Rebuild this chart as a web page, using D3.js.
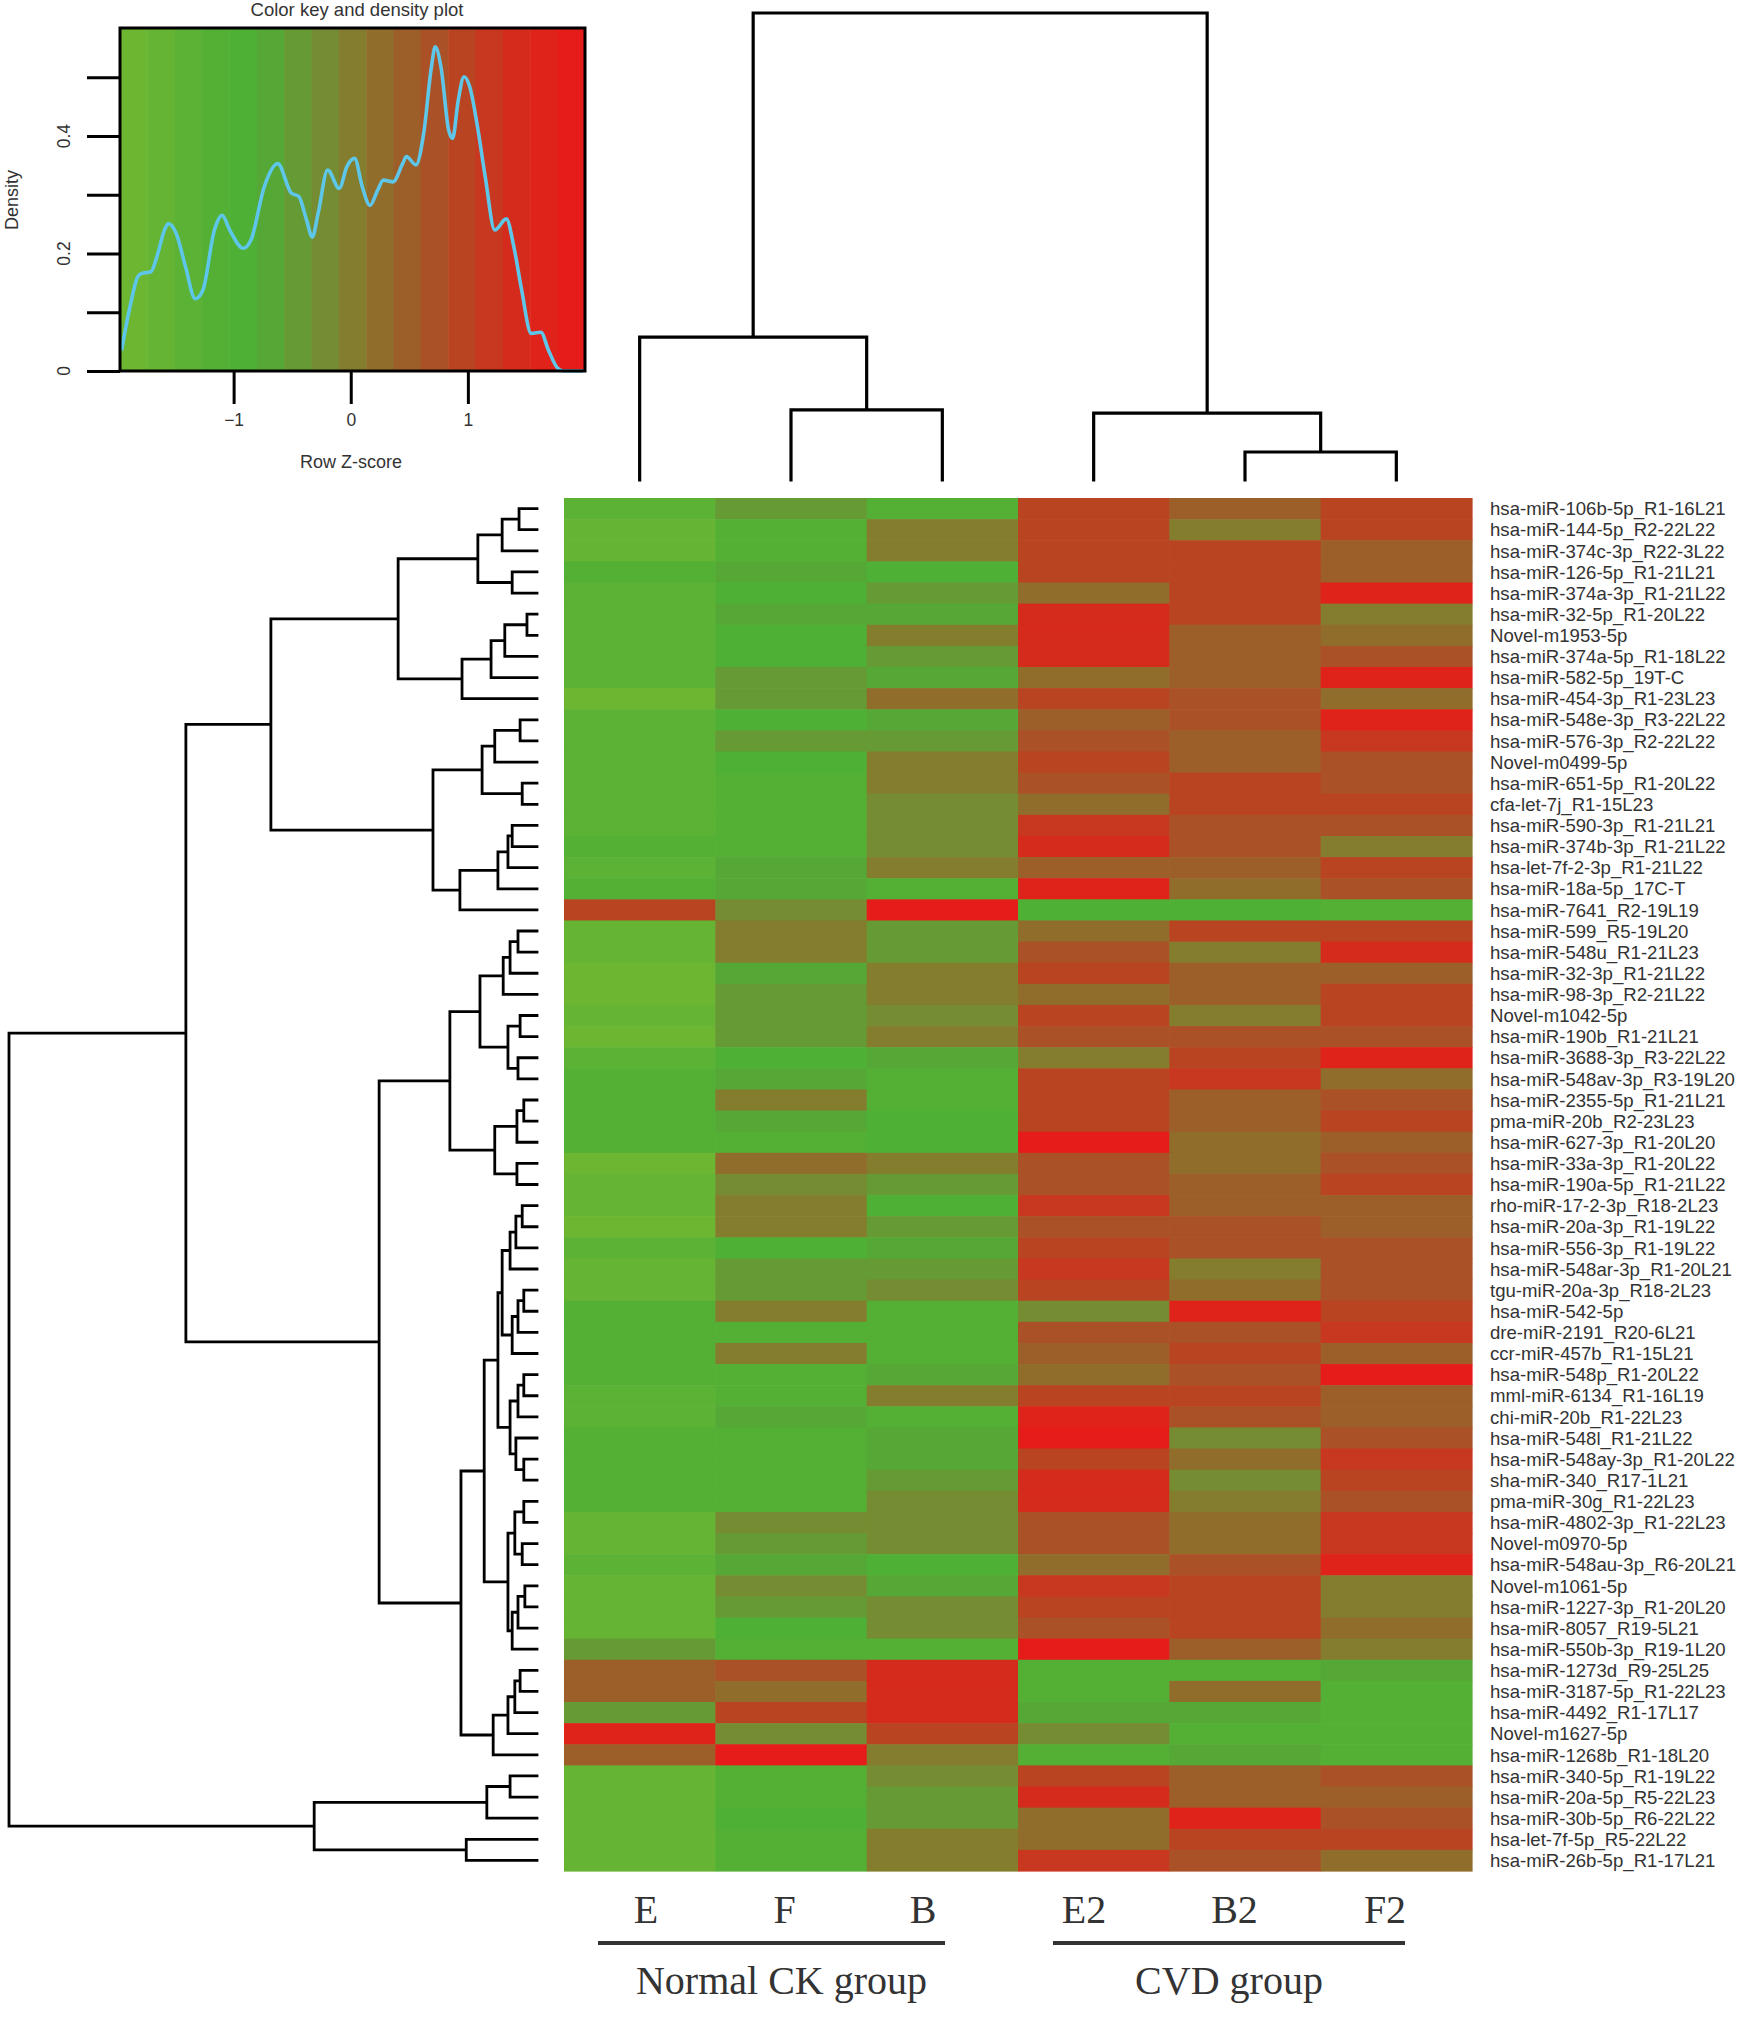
<!DOCTYPE html>
<html><head><meta charset="utf-8">
<script src="https://cdn.jsdelivr.net/npm/d3@7"></script>
<style>body{margin:0;background:#fff}svg{display:block}</style>
</head><body>
<svg id="c" width="1744" height="2017"></svg>
<script>
// ---------------- data ----------------
const cols = ["E","F","B","E2","B2","F2"];
const groups = ["Normal CK group","CVD group"];
const groupMembers = [["E","F","B"],["E2","B2","F2"]];
const rowLabels = [
"hsa-miR-106b-5p_R1-16L21","hsa-miR-144-5p_R2-22L22","hsa-miR-374c-3p_R22-3L22","hsa-miR-126-5p_R1-21L21",
"hsa-miR-374a-3p_R1-21L22","hsa-miR-32-5p_R1-20L22","Novel-m1953-5p","hsa-miR-374a-5p_R1-18L22",
"hsa-miR-582-5p_19T-C","hsa-miR-454-3p_R1-23L23","hsa-miR-548e-3p_R3-22L22","hsa-miR-576-3p_R2-22L22",
"Novel-m0499-5p","hsa-miR-651-5p_R1-20L22","cfa-let-7j_R1-15L23","hsa-miR-590-3p_R1-21L21",
"hsa-miR-374b-3p_R1-21L22","hsa-let-7f-2-3p_R1-21L22","hsa-miR-18a-5p_17C-T","hsa-miR-7641_R2-19L19",
"hsa-miR-599_R5-19L20","hsa-miR-548u_R1-21L23","hsa-miR-32-3p_R1-21L22","hsa-miR-98-3p_R2-21L22",
"Novel-m1042-5p","hsa-miR-190b_R1-21L21","hsa-miR-3688-3p_R3-22L22","hsa-miR-548av-3p_R3-19L20",
"hsa-miR-2355-5p_R1-21L21","pma-miR-20b_R2-23L23","hsa-miR-627-3p_R1-20L20","hsa-miR-33a-3p_R1-20L22",
"hsa-miR-190a-5p_R1-21L22","rho-miR-17-2-3p_R18-2L23","hsa-miR-20a-3p_R1-19L22","hsa-miR-556-3p_R1-19L22",
"hsa-miR-548ar-3p_R1-20L21","tgu-miR-20a-3p_R18-2L23","hsa-miR-542-5p","dre-miR-2191_R20-6L21",
"ccr-miR-457b_R1-15L21","hsa-miR-548p_R1-20L22","mml-miR-6134_R1-16L19","chi-miR-20b_R1-22L23",
"hsa-miR-548l_R1-21L22","hsa-miR-548ay-3p_R1-20L22","sha-miR-340_R17-1L21","pma-miR-30g_R1-22L23",
"hsa-miR-4802-3p_R1-22L23","Novel-m0970-5p","hsa-miR-548au-3p_R6-20L21","Novel-m1061-5p",
"hsa-miR-1227-3p_R1-20L20","hsa-miR-8057_R19-5L21","hsa-miR-550b-3p_R19-1L20","hsa-miR-1273d_R9-25L25",
"hsa-miR-3187-5p_R1-22L23","hsa-miR-4492_R1-17L17","Novel-m1627-5p","hsa-miR-1268b_R1-18L20",
"hsa-miR-340-5p_R1-19L22","hsa-miR-20a-5p_R5-22L23","hsa-miR-30b-5p_R6-22L22","hsa-let-7f-5p_R5-22L22",
"hsa-miR-26b-5p_R1-17L21"];

// row Z-scores, one array per sample (column)
const zE  = [-1.4,-1.7,-1.6,-1.25,-1.3,-1.3,-1.45,-1.3,-1.45,-1.75,-1.3,-1.45,-1.45,-1.3,-1.3,-1.45,-1.1,-1.35,-1.05,0.95,
 -1.7,-1.7,-1.75,-1.8,-1.7,-1.8,-1.3,-1.15,-1.25,-1.25,-1.15,-1.75,-1.65,-1.65,-1.75,-1.3,-1.65,-1.65,-1.15,-1.15,
 -1.15,-1.1,-1.45,-1.3,-1.1,-1.15,-1.15,-1.15,-1.65,-1.65,-1.5,-1.65,-1.65,-1.65,-0.4,0.45,0.5,-0.4,1.55,0.45,
 -1.65,-1.65,-1.65,-1.65,-1.65];
const zF  = [-0.55,-1.1,-1.05,-0.75,-1.0,-0.8,-1.0,-1.0,-0.4,-0.5,-0.9,-0.5,-1.0,-1.05,-1.05,-1.05,-1.05,-0.6,-0.65,-0.15,
 -0.1,-0.05,-0.8,-0.4,-0.4,-0.55,-1.0,-0.8,0.0,-0.8,-1.05,0.3,-0.25,-0.1,-0.1,-0.95,-0.4,-0.5,-0.1,-1.05,
 0.0,-1.05,-1.05,-0.8,-1.05,-1.05,-1.05,-1.05,-0.25,-0.4,-0.65,-0.25,-0.45,-0.95,-1.05,0.7,0.25,1.05,-0.3,1.85,
 -1.05,-1.05,-0.95,-1.05,-1.05];
const zB  = [-1.1,0.0,0.0,-1.0,-0.45,-0.6,0.0,-0.4,-0.65,0.25,-0.8,-0.45,-0.1,-0.1,-0.25,-0.25,-0.2,-0.1,-1.05,1.8,
 -0.4,-0.55,0.0,0.05,-0.3,0.0,-0.65,-1.05,-1.05,-0.85,-0.85,-0.1,-0.55,-0.95,-0.45,-0.65,-0.4,-0.25,-1.05,-1.05,
 -1.05,-0.65,-0.1,-1.05,-0.65,-0.65,-0.4,-0.25,-0.25,-0.25,-0.95,-0.65,-0.25,-0.15,-1.05,1.5,1.5,1.5,0.9,0.05,
 -0.25,-0.45,-0.55,-0.1,-0.1];
const zE2 = [1.0,1.0,1.0,1.05,0.15,1.5,1.5,1.5,0.25,0.95,0.45,0.6,1.0,0.65,0.2,1.25,1.5,0.5,1.7,-0.95,
 0.15,0.6,0.85,0.2,1.0,0.6,-0.1,1.05,1.05,0.95,1.85,0.6,0.8,1.25,0.7,1.0,1.25,1.05,-0.15,0.7,
 0.55,0.25,1.0,1.55,1.9,1.05,1.5,1.5,0.7,0.7,0.35,1.25,1.05,0.7,1.85,-1.05,-1.25,-0.8,-0.15,-1.05,
 1.05,1.5,0.2,0.2,1.15];
const zB2 = [0.55,0.1,1.0,1.0,0.95,0.95,0.5,0.45,0.5,0.6,0.6,0.45,0.4,1.0,1.05,0.6,0.8,0.5,0.25,-0.95,
 0.9,0.0,0.55,0.55,0.1,0.6,1.0,1.25,0.45,0.5,0.25,0.35,0.45,0.45,0.6,0.6,-0.1,0.35,1.55,0.6,
 1.0,0.7,0.9,0.6,-0.15,0.35,-0.15,-0.1,0.15,0.15,0.7,0.9,1.05,1.05,0.45,-1.05,0.15,-0.65,-1.05,-0.6,
 0.45,0.45,1.55,1.0,0.7];
const zF2 = [1.0,1.0,0.4,0.55,1.55,0.0,0.35,0.75,1.55,0.15,1.55,1.25,0.75,0.65,1.05,0.6,-0.1,1.0,0.7,-1.05,
 0.9,1.5,0.55,1.0,1.0,0.6,1.55,0.35,0.7,1.0,0.45,0.6,0.95,0.5,0.5,0.7,0.7,0.7,1.0,1.25,
 0.5,1.8,0.5,0.45,0.7,1.25,1.05,0.7,1.15,1.15,1.55,-0.1,-0.1,0.25,-0.1,-0.65,-1.1,-1.1,-1.1,-1.1,
 0.8,0.55,0.8,0.9,0.2];

// dendrograms: [mergeHeight, left, right]; numbers are leaf indices
const colTree = [10, [3.06, 0, [1.5, 1, 2]], [1.43, 3, [0.6, 4, 5]]];
const rowTree = [10.0,
  [6.65,
    [5.04,
      [2.63,
        [1.12, [0.66, [0.34, 0, 1], 2], [0.47, 3, 4]],
        [1.42, [0.87, [0.61, [0.19, 5, 6], 7], 8], 9]],
      [1.97,
        [1.04, [0.80, [0.32, 10, 11], 12], [0.28, 13, 14]],
        [1.46, [0.74, [0.55, [0.47, 15, 16], 17], 18], 19]]],
    [2.99,
      [1.65,
        [1.08, [0.64, [0.51, [0.36, 20, 21], 22], 23], [0.55, [0.32, 24, 25], [0.36, 26, 27]]],
        [0.80, [0.38, [0.25, 28, 29], 30], [0.38, 31, 32]]],
      [1.44,
        [1.00,
          [0.74,
            [0.66, [0.51, [0.40, [0.28, 33, 34], 35], 36], [0.47, [0.36, [0.25, 37, 38], 39], 40]],
            [0.51, [0.36, [0.25, 41, 42], 43], [0.40, 44, [0.25, 45, 46]]]],
          [0.55, [0.42, [0.25, 47, 48], [0.28, 49, 50]], [0.47, [0.36, [0.23, 51, 52], 53], 54]]],
        [0.83, [0.55, [0.42, [0.32, 55, 56], 57], 58], 59]]]],
  [4.22, [0.95, [0.51, 60, 61], 62], [1.34, 63, 64]]];

// density curve of the colour key
const densityZ = [-1.957,-1.885,-1.82,-1.787,-1.705,-1.656,-1.59,-1.557,-1.49,-1.41,-1.328,-1.262,-1.164,-1.098,-1.033,-0.918,-0.852,-0.738,-0.623,-0.508,-0.443,-0.377,-0.328,-0.279,-0.197,-0.098,-0.033,0.033,0.098,0.164,0.23,0.279,0.361,0.443,0.475,0.557,0.623,0.689,0.721,0.77,0.836,0.869,0.918,0.967,1.016,1.082,1.148,1.23,1.328,1.393,1.459,1.541,1.623,1.689,1.77,1.82,1.984];
const densityD = [0.035,0.109,0.16,0.166,0.169,0.194,0.24,0.251,0.234,0.177,0.123,0.138,0.24,0.265,0.24,0.209,0.223,0.314,0.353,0.303,0.297,0.257,0.228,0.268,0.342,0.311,0.348,0.362,0.314,0.282,0.308,0.325,0.322,0.353,0.365,0.351,0.405,0.518,0.552,0.518,0.41,0.396,0.461,0.501,0.484,0.416,0.331,0.24,0.259,0.211,0.138,0.064,0.066,0.035,0.004,0,0];
const keyXTicks = [-1, 0, 1];
const keyYTicks = [0, 0.1, 0.2, 0.3, 0.4, 0.5];
const keyYLabels = [0, 0.2, 0.4];

// palette (z -> colour)
const paletteZ = [-1.85,-1.62,-1.38,-1.15,-0.92,-0.69,-0.45,-0.22,0.01,0.24,0.47,0.7,0.94,1.17,1.4,1.63,1.87];
const paletteC = ["#6cb632","#65b433","#5cb234","#53b035","#4eb035","#56a836","#659a35","#758c32","#847d2e","#906e2b","#9c602a","#aa5227","#b84522","#c7381f","#d42c1c","#de221a","#e61c1a"];

// ---------------- drawing ----------------
const svg = d3.select("#c");
const FONT = "'Liberation Sans', Arial, Helvetica, sans-serif";
const SERIF = "'Liberation Serif', 'Times New Roman', serif";

const zDomain = [-1.97, 2.0];
const nBands = 17;
const bandW = (zDomain[1]-zDomain[0])/nBands;
const color = d3.scaleLinear().domain(paletteZ).range(paletteC).interpolate(d3.interpolateRgb).clamp(true);
const bandOf = z => Math.max(0, Math.min(nBands-1, Math.floor((z - zDomain[0]) / bandW)));
const bandColor = b => color(zDomain[0] + (b + 0.5) * bandW);

// heatmap
const x = d3.scaleBand().domain(d3.range(cols.length)).range([564, 1472]);
const y = d3.scaleBand().domain(d3.range(rowLabels.length)).range([498, 1871]);
const colData = [zE, zF, zB, zE2, zB2, zF2];
const cells = [];
colData.forEach((arr, j) => arr.forEach((v, i) => cells.push({i, j, v})));
svg.append("g").selectAll("rect").data(cells).join("rect")
  .attr("x", d => x(d.j)).attr("y", d => y(d.i))
  .attr("width", x.bandwidth() + 0.6).attr("height", y.bandwidth() + 0.6)
  .attr("fill", d => bandColor(bandOf(d.v)));

// row labels
svg.append("g").selectAll("text").data(rowLabels).join("text")
  .attr("x", 1490).attr("y", (d, i) => y(i) + y.bandwidth()/2)
  .attr("dy", "0.36em")
  .attr("font-family", FONT).attr("font-size", 18.6).attr("fill", "#333")
  .text(d => d);

// dendrogram helper
function buildTree(arr, leafPos) {
  const toNode = a => Array.isArray(a) ? {h: a[0], children: [toNode(a[1]), toNode(a[2])]} : {h: 0, leaf: a};
  const root = d3.hierarchy(toNode(arr));
  root.eachAfter(n => {
    n.pos = n.children ? (n.children[0].pos + n.children[1].pos) / 2 : leafPos(n.data.leaf);
  });
  return root;
}

// row dendrogram (horizontal)
const rowH = d3.scaleLinear().domain([0, 10]).range([537, 9]);
const rRoot = buildTree(rowTree, i => y(i) + y.bandwidth()/2);
const rp = d3.path();
rRoot.each(n => {
  if (!n.children) return;
  const xh = rowH(n.data.h);
  rp.moveTo(xh, n.children[0].pos); rp.lineTo(xh, n.children[1].pos);
  n.children.forEach(c => { rp.moveTo(xh, c.pos); rp.lineTo(rowH(c.data.h), c.pos); });
});
svg.append("path").attr("d", rp.toString()).attr("fill", "none")
  .attr("stroke", "#000").attr("stroke-width", 2.8).attr("stroke-linecap", "square");

// column dendrogram (vertical)
const colH = d3.scaleLinear().domain([0, 10]).range([480, 13]);
const cRoot = buildTree(colTree, j => x(j) + x.bandwidth()/2);
const cp = d3.path();
cRoot.each(n => {
  if (!n.children) return;
  const yh = colH(n.data.h);
  cp.moveTo(n.children[0].pos, yh); cp.lineTo(n.children[1].pos, yh);
  n.children.forEach(c => { cp.moveTo(c.pos, yh); cp.lineTo(c.pos, colH(c.data.h)); });
});
svg.append("path").attr("d", cp.toString()).attr("fill", "none")
  .attr("stroke", "#000").attr("stroke-width", 3.2).attr("stroke-linecap", "square");

// colour key
const kx = d3.scaleLinear().domain(zDomain).range([120, 585]);
const ky = d3.scaleLinear().domain([0, 0.584]).range([371, 28]);
const key = svg.append("g");
key.selectAll("rect").data(d3.range(nBands)).join("rect")
  .attr("x", b => kx(zDomain[0] + b * bandW)).attr("y", 28)
  .attr("width", b => kx(zDomain[0] + (b+1) * bandW) - kx(zDomain[0] + b * bandW) + 0.5)
  .attr("height", 343)
  .attr("fill", b => bandColor(b));
key.append("path")
  .datum(densityZ.map((z, i) => [z, densityD[i]]))
  .attr("d", d3.line().x(d => kx(d[0])).y(d => ky(d[1])).curve(d3.curveMonotoneX))
  .attr("fill", "none").attr("stroke", "#5ec6e8").attr("stroke-width", 3.6);
key.append("rect").attr("x", 120).attr("y", 28).attr("width", 465).attr("height", 343)
  .attr("fill", "none").attr("stroke", "#000").attr("stroke-width", 3);

const xAxis = key.append("g").attr("transform", "translate(0,371)")
  .call(d3.axisBottom(kx).tickValues(keyXTicks).tickSize(33).tickPadding(10).tickFormat(d3.format("d")));
xAxis.select(".domain").remove();
xAxis.selectAll("line").attr("stroke", "#000").attr("stroke-width", 3);
xAxis.selectAll("text").attr("font-family", FONT).attr("font-size", 17.5).attr("fill", "#333");

const yAxis = key.append("g").attr("transform", "translate(120,0)")
  .call(d3.axisLeft(ky).tickValues(keyYTicks).tickSize(33).tickFormat(""));
yAxis.select(".domain").remove();
yAxis.selectAll("line").attr("stroke", "#000").attr("stroke-width", 3);
key.selectAll(".ylab").data(keyYLabels).join("text").attr("class", "ylab")
  .attr("transform", d => `translate(70,${ky(d)}) rotate(-90)`)
  .attr("text-anchor", "middle")
  .attr("font-family", FONT).attr("font-size", 17.5).attr("fill", "#333")
  .text(d => d === 0 ? "0" : d3.format(".1f")(d));

key.append("text").attr("x", 357).attr("y", 16).attr("text-anchor", "middle")
  .attr("font-family", FONT).attr("font-size", 18.5).attr("fill", "#333")
  .text("Color key and density plot");
key.append("text").attr("x", 351).attr("y", 468).attr("text-anchor", "middle")
  .attr("font-family", FONT).attr("font-size", 18).attr("fill", "#333")
  .text("Row Z-score");
key.append("text").attr("transform", "translate(18,200) rotate(-90)").attr("text-anchor", "middle")
  .attr("font-family", FONT).attr("font-size", 18).attr("fill", "#333")
  .text("Density");

// bottom sample labels and groups
const groupLabelRanges = [[646, 923], [1084, 1385]];
const labelScales = groupMembers.map((m, g) => d3.scalePoint().domain(m).range(groupLabelRanges[g]));
svg.append("g").selectAll("text").data(cols).join("text")
  .attr("x", d => { const g = groupMembers[0].includes(d) ? 0 : 1; return labelScales[g](d); })
  .attr("y", 1923).attr("text-anchor", "middle")
  .attr("font-family", SERIF).attr("font-size", 40).attr("fill", "#333")
  .text(d => d);
const groupSpans = [[598, 945], [1053, 1405]];
svg.append("g").selectAll("line").data(groupSpans).join("line")
  .attr("x1", d => d[0]).attr("x2", d => d[1]).attr("y1", 1943).attr("y2", 1943)
  .attr("stroke", "#333").attr("stroke-width", 4);
svg.append("g").selectAll("text").data(groups).join("text")
  .attr("x", (d, i) => (groupSpans[i][0] + groupSpans[i][1]) / 2 + (i === 0 ? 10 : 0))
  .attr("y", 1994).attr("text-anchor", "middle")
  .attr("font-family", SERIF).attr("font-size", 40).attr("fill", "#333")
  .text(d => d);
</script></body></html>
